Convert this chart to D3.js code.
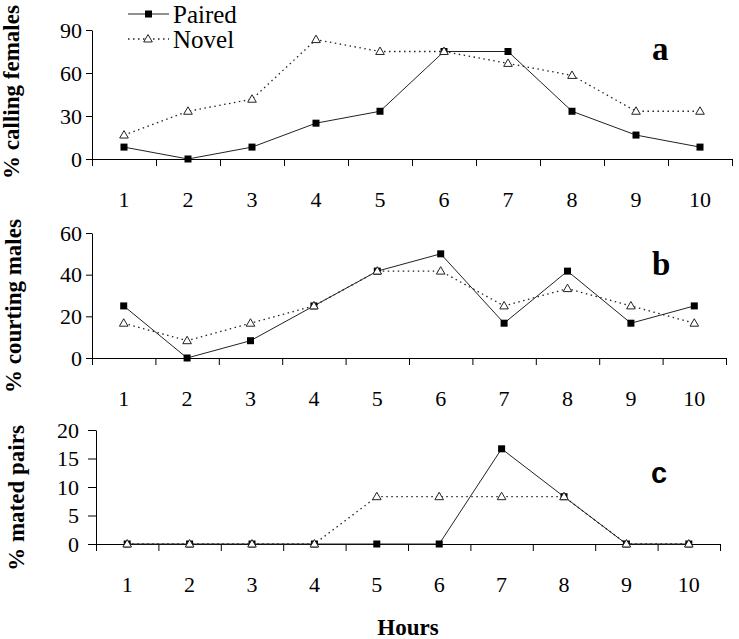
<!DOCTYPE html>
<html>
<head>
<meta charset="utf-8">
<script src="https://cdn.jsdelivr.net/npm/d3@7"></script>
<style>
  html, body { margin: 0; padding: 0; background: #fff; }
  svg { display: block; }
  .serif { font-family: "Liberation Serif", "Times New Roman", Times, "DejaVu Serif", serif; }
  .sans { font-family: "Liberation Sans", Arial, Helvetica, sans-serif; }
</style>
</head>
<body>
<svg id="chart" width="739" height="639"></svg>
<script>
const hours = [1, 2, 3, 4, 5, 6, 7, 8, 9, 10];
const seriesNames = ["Paired", "Novel"];

const pairedCalling = [8.3, 0, 8.3, 25, 33.3, 75, 75, 33.3, 16.7, 8.3];
const novelCalling  = [16.7, 33.3, 41.7, 83.3, 75, 75, 66.7, 58.3, 33.3, 33.3];

const pairedCourting = [25, 0, 8.3, 25, 41.7, 50, 16.7, 41.7, 16.7, 25];
const novelCourting  = [16.7, 8.3, 16.7, 25, 41.7, 41.7, 25, 33.3, 25, 16.7];

const pairedMated = [0, 0, 0, 0, 0, 0, 16.7, 8.3, 0, 0];
const novelMated  = [0, 0, 0, 0, 8.3, 8.3, 8.3, 8.3, 0, 0];

const yTicksCalling = [0, 30, 60, 90];
const yTicksCourting = [0, 20, 40, 60];
const yTicksMated = [0, 5, 10, 15, 20];

const panelTitles = ["% calling females", "% courting males", "% mated pairs"];
const panelLetters = ["a", "b", "c"];
const xTitle = "Hours";

const svg = d3.select("#chart");

const panels = [
  { paired: pairedCalling, novel: novelCalling, ticks: yTicksCalling, max: 90,
    x0: 92, x1: 732, yB: 159, yT: 30, title: panelTitles[0], tx: 19, ty: 92,
    letter: panelLetters[0], lx: 652, ly: 60, lclass: "serif", lsize: 33, tickLen: 6, tickPad: 4 },
  { paired: pairedCourting, novel: novelCourting, ticks: yTicksCourting, max: 60,
    x0: 92, x1: 726, yB: 358, yT: 233, title: panelTitles[1], tx: 21, ty: 306,
    letter: panelLetters[1], lx: 652, ly: 275, lclass: "serif", lsize: 33, tickLen: 6, tickPad: 4 },
  { paired: pairedMated, novel: novelMated, ticks: yTicksMated, max: 20,
    x0: 96, x1: 720, yB: 544, yT: 430, title: panelTitles[2], tx: 24, ty: 498,
    letter: panelLetters[2], lx: 651, ly: 483, lclass: "sans", lsize: 29, tickLen: 8, tickPad: 9 }
];

panels.forEach(p => {
  const g = svg.append("g");
  const x = d3.scaleBand().domain(hours).range([p.x0, p.x1]);
  const xEdge = d3.scaleLinear().domain([0.5, 10.5]).range([p.x0, p.x1]);
  const y = d3.scaleLinear().domain([0, p.max]).range([p.yB, p.yT]);
  const cx = h => x(h) + x.bandwidth() / 2;

  const edges = d3.range(0.5, 11, 1);
  const xa = g.append("g").attr("transform", `translate(0,${p.yB})`)
    .call(d3.axisBottom(xEdge).tickValues(edges).tickSize(7).tickSizeOuter(0).tickFormat(""));
  xa.select(".domain").attr("stroke", "#000").attr("stroke-width", 1);
  xa.selectAll(".tick line").attr("stroke", "#000");

  const xl = g.append("g").attr("transform", `translate(0,${p.yB})`)
    .call(d3.axisBottom(x).tickSize(0).tickPadding(32));
  xl.attr("font-family", null).attr("font-size", null);
  xl.select(".domain").remove();
  xl.selectAll("text").attr("class", "serif").style("font-size", "22px").attr("fill", "#000");

  const ya = g.append("g").attr("transform", `translate(${p.x0},0)`)
    .call(d3.axisLeft(y).tickValues(p.ticks).tickSize(p.tickLen).tickSizeOuter(0).tickPadding(p.tickPad));
  ya.attr("font-family", null).attr("font-size", null);
  ya.select(".domain").attr("stroke", "#000");
  ya.selectAll(".tick line").attr("stroke", "#000");
  ya.selectAll("text").attr("class", "serif").style("font-size", "22px").attr("fill", "#000");

  g.append("text")
    .attr("class", "serif")
    .attr("transform", `translate(${p.tx},${p.ty}) rotate(-90)`)
    .attr("text-anchor", "middle")
    .style("font-weight", "bold").style("font-size", "23px")
    .text(p.title);

  g.append("text").attr("x", p.lx).attr("y", p.ly)
    .attr("class", p.lclass).style("font-weight", "bold").style("font-size", p.lsize + "px")
    .text(p.letter);

  const line = d3.line().x((d, i) => cx(hours[i])).y(d => y(d));

  g.append("path").datum(p.paired).attr("d", line)
    .attr("fill", "none").attr("stroke", "#222").attr("stroke-width", 1);
  g.append("path").datum(p.novel).attr("d", line)
    .attr("fill", "none").attr("stroke", "#222").attr("stroke-width", 1.3)
    .attr("stroke-dasharray", "1.5,3.5");

  g.selectAll(".sq").data(p.paired).enter().append("rect")
    .attr("x", (d, i) => cx(hours[i]) - 3.5).attr("y", d => y(d) - 3.5)
    .attr("width", 7).attr("height", 7).attr("fill", "#000");

  const tri = d3.symbol().type(d3.symbolTriangle).size(32);
  g.selectAll(".tri").data(p.novel).enter().append("path")
    .attr("d", tri)
    .attr("transform", (d, i) => `translate(${cx(hours[i])},${y(d) + 0.5})`)
    .attr("fill", "#fff").attr("stroke", "#222").attr("stroke-width", 1);
});

const lg = svg.append("g");
lg.append("line").attr("x1", 128).attr("x2", 169).attr("y1", 14).attr("y2", 14)
  .attr("stroke", "#222").attr("stroke-width", 1);
lg.append("rect").attr("x", 145).attr("y", 10.5).attr("width", 7).attr("height", 7).attr("fill", "#000");
lg.append("text").attr("x", 173).attr("y", 23).attr("class", "serif").style("font-size", "25px").text(seriesNames[0]);
lg.append("line").attr("x1", 128).attr("x2", 169).attr("y1", 39).attr("y2", 39)
  .attr("stroke", "#222").attr("stroke-width", 1.3).attr("stroke-dasharray", "1.5,3.5");
lg.append("path").attr("d", d3.symbol().type(d3.symbolTriangle).size(32))
  .attr("transform", "translate(148,39.5)")
  .attr("fill", "#fff").attr("stroke", "#222").attr("stroke-width", 1);
lg.append("text").attr("x", 173).attr("y", 48).attr("class", "serif").style("font-size", "25px").text(seriesNames[1]);

svg.append("text").attr("x", 408).attr("y", 635).attr("text-anchor", "middle")
  .attr("class", "serif").style("font-weight", "bold").style("font-size", "23px").text(xTitle);
</script>
</body>
</html>
